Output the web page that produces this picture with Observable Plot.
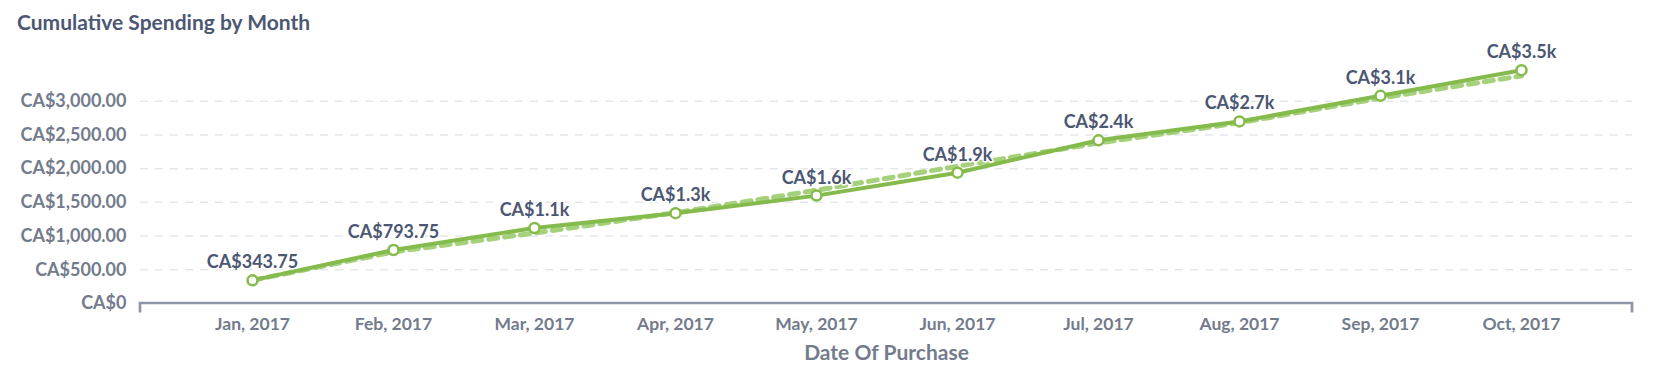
<!DOCTYPE html>
<html>
<head>
<meta charset="utf-8">
<script src="https://cdn.jsdelivr.net/npm/d3@7"></script>
<script src="https://cdn.jsdelivr.net/npm/@observablehq/plot@0.6"></script>
<style>
  html, body { margin: 0; padding: 0; background: #fff; }
  body { width: 1669px; height: 380px; overflow: hidden; font-family: Lato, "Noto Sans", sans-serif; }
  #title { box-sizing: border-box; height: 40px; padding: 10px 0 0 17px; font: 700 21px/24px Lato, sans-serif; color: #4c5773; }
  #chart svg { display: block; }
</style>
</head>
<body>
<div id="title">Cumulative Spending by Month</div>
<div id="chart"></div>
<script>
const months = ["Jan, 2017", "Feb, 2017", "Mar, 2017", "Apr, 2017", "May, 2017", "Jun, 2017", "Jul, 2017", "Aug, 2017", "Sep, 2017", "Oct, 2017"];
const spending = [343.75, 793.75, 1120, 1340, 1600, 1940, 2420, 2700, 3080, 3460];
const trend = [343.75, 765, 1045, 1345, 1680, 2036, 2380, 2680, 3045, 3375];
const yTicks = [0, 500, 1000, 1500, 2000, 2500, 3000];
const xTitle = "Date Of Purchase";

const data = months.map((m, i) => ({month: m, value: spending[i], trend: trend[i]}));

const fmtAxis = d => d === 0 ? "CA$0" : "CA$" + d3.format(",.2f")(d);
const fmtLabel = v => v >= 1000 ? "CA$" + (v / 1000).toFixed(1) + "k" : "CA$" + v.toFixed(2);

const green = "#84bb4c";
const tickColor = "#737b8c";

const baseline = (index, scales, values, dims) => {
  const y0 = scales.y(0);
  const x1 = dims.marginLeft, x2 = dims.width - dims.marginRight;
  return d3.create("svg:path")
    .attr("d", `M${x1},${y0 + 9.5}V${y0}H${x2}V${y0 + 9.5}`)
    .attr("fill", "none")
    .attr("stroke", "#8e95a6")
    .attr("stroke-width", 2.7)
    .node();
};

const chart = Plot.plot({
  width: 1669,
  height: 340,
  marginLeft: 140,
  marginRight: 37,
  marginTop: 27,
  marginBottom: 77,
  style: {fontFamily: "Lato, sans-serif", background: "white"},
  x: {type: "point", domain: months, padding: 0.762},
  y: {domain: [0, 3500]},
  marks: [
    Plot.gridY(yTicks.filter(d => d > 0), {stroke: "#e6e7eb", strokeOpacity: 1, strokeDasharray: "8,7", strokeWidth: 1.5}),
    Plot.axisY(yTicks, {tickSize: 0, tickPadding: 14, tickFormat: fmtAxis, fontSize: 18, fontWeight: 700, fill: tickColor, label: null}),
    Plot.axisX({tickSize: 0, tickPadding: 14, fontSize: 17.5, fontWeight: 700, fill: tickColor, label: null}),
    baseline,
    Plot.text([xTitle], {frameAnchor: "bottom", dy: 56, fontSize: 21, fontWeight: 700, fill: tickColor}),
    Plot.line(data, {x: "month", y: "trend", stroke: "#a6d17c", strokeWidth: 5, strokeDasharray: "9,7"}),
    Plot.line(data, {x: "month", y: "value", stroke: green, strokeWidth: 4}),
    Plot.dot(data, {x: "month", y: "value", r: 5, fill: "white", stroke: green, strokeWidth: 2.5}),
    Plot.text(data, {x: "month", y: "value", text: d => fmtLabel(d.value), dy: -12, lineAnchor: "bottom", fontSize: 18, fontWeight: 700, fill: "#4c5773", stroke: "white", strokeWidth: 3, style: "letter-spacing:1px"})
  ]
});
document.getElementById("chart").appendChild(chart);
</script>
</body>
</html>
